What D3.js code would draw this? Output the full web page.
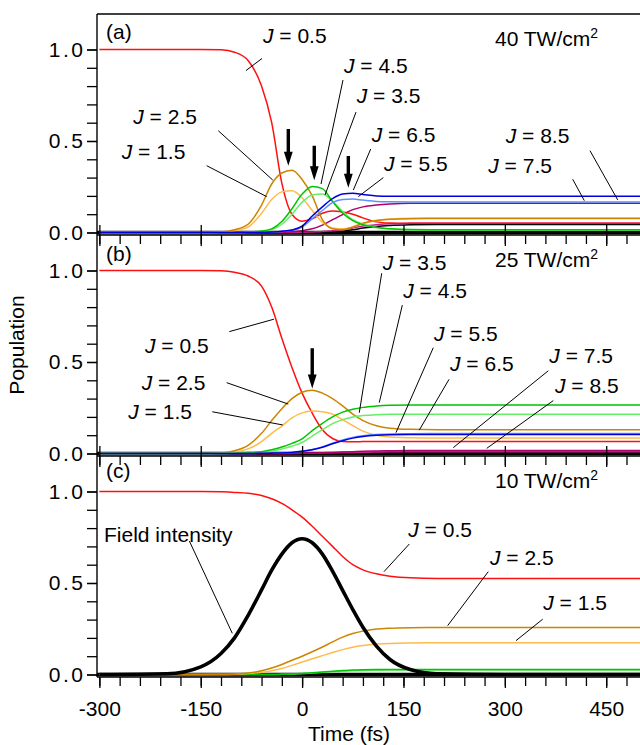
<!DOCTYPE html>
<html>
<head>
<meta charset="utf-8">
<script src="https://cdn.jsdelivr.net/npm/d3@7/dist/d3.min.js"></script>
<style>
  body { margin: 0; background: #fff; }
  svg { display: block; font-family: "Liberation Sans", Arial, Helvetica, sans-serif; }
  text { white-space: pre; }
</style>
</head>
<body>
<svg id="chart" width="640" height="745"></svg>
<script>
// time grid (fs) shared by every curve
const times = [-300, -200, -150, -120, -100, -80, -60, -45, -30, -15, 0, 15, 30, 45, 60, 75, 90, 110, 130, 160, 200, 300, 500]

// panel (a) 40 TW/cm2
const a_j05 = [1, 1, 1, 0.998, 0.985, 0.94, 0.8, 0.6, 0.27, 0.1, 0.062, 0.075, 0.105, 0.118, 0.112, 0.1, 0.08, 0.058, 0.052, 0.05, 0.05, 0.05, 0.05]
const a_j15 = [0, 0, 0, 0.002, 0.01, 0.03, 0.105, 0.18, 0.222, 0.228, 0.19, 0.12, 0.055, 0.025, 0.02, 0.03, 0.048, 0.065, 0.073, 0.078, 0.079, 0.079, 0.079]
const a_j25 = [0, 0, 0, 0.003, 0.015, 0.045, 0.15, 0.265, 0.325, 0.34, 0.29, 0.2, 0.07, 0.02, 0.015, 0.03, 0.05, 0.065, 0.072, 0.075, 0.076, 0.076, 0.076]
const a_j35 = [0, 0, 0, 0, 0, 0.001, 0.005, 0.015, 0.045, 0.1, 0.165, 0.205, 0.21, 0.17, 0.115, 0.07, 0.045, 0.028, 0.02, 0.014, 0.012, 0.012, 0.012]
const a_j45 = [0, 0, 0, 0, 0, 0.002, 0.008, 0.02, 0.06, 0.13, 0.21, 0.252, 0.24, 0.17, 0.105, 0.065, 0.042, 0.027, 0.02, 0.016, 0.015, 0.015, 0.015]
const a_j55 = [0, 0, 0, 0, 0, 0, 0.001, 0.003, 0.006, 0.012, 0.03, 0.075, 0.12, 0.163, 0.18, 0.183, 0.177, 0.17, 0.168, 0.167, 0.167, 0.167, 0.167]
const a_j65 = [0, 0, 0, 0, 0, 0, 0.001, 0.003, 0.007, 0.014, 0.035, 0.09, 0.14, 0.185, 0.21, 0.214, 0.208, 0.2, 0.198, 0.198, 0.198, 0.198, 0.198]
const a_j75 = [0, 0, 0, 0, 0, 0, 0, 0, 0.001, 0.004, 0.01, 0.02, 0.04, 0.07, 0.098, 0.125, 0.14, 0.15, 0.156, 0.16, 0.16, 0.16, 0.16]
const a_j85 = [0, 0, 0, 0, 0, 0, 0, 0, 0, 0, 0.001, 0.003, 0.005, 0.01, 0.015, 0.025, 0.035, 0.043, 0.048, 0.05, 0.051, 0.051, 0.051]
const a_j95 = [0, 0, 0, 0, 0, 0, 0, 0, 0, 0, 0, 0.001, 0.002, 0.004, 0.008, 0.015, 0.024, 0.033, 0.038, 0.042, 0.044, 0.044, 0.044]

// panel (b) 25 TW/cm2
const b_j05 = [1, 1, 1, 0.998, 0.99, 0.97, 0.915, 0.8, 0.63, 0.47, 0.33, 0.22, 0.13, 0.082, 0.066, 0.064, 0.065, 0.066, 0.066, 0.066, 0.066, 0.066, 0.066]
const b_j15 = [0, 0, 0, 0.002, 0.008, 0.025, 0.065, 0.11, 0.15, 0.195, 0.222, 0.232, 0.228, 0.215, 0.185, 0.152, 0.122, 0.1, 0.09, 0.086, 0.084, 0.084, 0.084]
const b_j25 = [0, 0, 0, 0.003, 0.015, 0.045, 0.11, 0.18, 0.245, 0.3, 0.335, 0.346, 0.33, 0.3, 0.26, 0.215, 0.18, 0.152, 0.138, 0.132, 0.13, 0.13, 0.13]
const b_j35 = [0, 0, 0, 0, 0.001, 0.003, 0.005, 0.012, 0.025, 0.04, 0.06, 0.095, 0.13, 0.163, 0.185, 0.2, 0.207, 0.212, 0.214, 0.215, 0.215, 0.215, 0.215]
const b_j45 = [0, 0, 0, 0, 0.002, 0.005, 0.01, 0.02, 0.035, 0.055, 0.08, 0.125, 0.165, 0.2, 0.226, 0.242, 0.252, 0.259, 0.263, 0.265, 0.265, 0.265, 0.265]
const b_j55 = [0, 0, 0, 0, 0, 0, 0.001, 0.002, 0.003, 0.006, 0.012, 0.022, 0.036, 0.056, 0.074, 0.088, 0.097, 0.104, 0.107, 0.108, 0.109, 0.109, 0.109]
const b_j65 = [0, 0, 0, 0, 0, 0, 0.001, 0.002, 0.003, 0.006, 0.012, 0.021, 0.034, 0.053, 0.07, 0.084, 0.093, 0.1, 0.103, 0.104, 0.104, 0.104, 0.104]
const b_j75 = [0, 0, 0, 0, 0, 0, 0, 0, 0, 0.001, 0.002, 0.003, 0.004, 0.006, 0.008, 0.01, 0.012, 0.014, 0.015, 0.016, 0.016, 0.016, 0.016]
const b_j85 = [0, 0, 0, 0, 0, 0, 0, 0, 0, 0, 0.001, 0.002, 0.003, 0.004, 0.005, 0.006, 0.007, 0.008, 0.009, 0.01, 0.01, 0.01, 0.01]

// panel (c) 10 TW/cm2
const c_j05 = [1, 1, 1, 0.998, 0.995, 0.99, 0.978, 0.96, 0.935, 0.9, 0.86, 0.81, 0.755, 0.7, 0.645, 0.6, 0.572, 0.55, 0.537, 0.528, 0.525, 0.525, 0.525]
const c_j15 = [0, 0, 0, 0, 0.001, 0.005, 0.012, 0.021, 0.033, 0.05, 0.068, 0.086, 0.103, 0.12, 0.136, 0.149, 0.158, 0.166, 0.17, 0.172, 0.173, 0.173, 0.173]
const c_j25 = [0, 0, 0, 0.001, 0.002, 0.008, 0.02, 0.035, 0.055, 0.078, 0.1, 0.124, 0.15, 0.178, 0.204, 0.224, 0.237, 0.248, 0.253, 0.256, 0.257, 0.257, 0.257]
const c_j35 = [0, 0, 0, 0, 0, 0, 0, 0, 0.001, 0.002, 0.005, 0.008, 0.012, 0.015, 0.018, 0.02, 0.022, 0.023, 0.024, 0.024, 0.024, 0.024, 0.024]
const c_j45 = [0, 0, 0, 0, 0, 0, 0, 0, 0.001, 0.003, 0.006, 0.01, 0.014, 0.018, 0.022, 0.024, 0.026, 0.027, 0.027, 0.027, 0.027, 0.027, 0.027]
const c_field = [0, 0.004, 0.042, 0.115, 0.2, 0.322, 0.462, 0.57, 0.658, 0.72, 0.742, 0.72, 0.658, 0.565, 0.46, 0.355, 0.258, 0.155, 0.082, 0.027, 0.004, 0, 0]

const colors = {
  j05: '#ff1010', j15: '#ffbb4a', j25: '#cc8500', j35: '#66ee66', j45: '#00c400',
  j55: '#6090ff', j65: '#0000dc', j75: '#b0006c', j85: '#c0208e', j95: '#000000', field: '#000000'
}

const yTicksMajor = [0, 0.5, 1.0]
const yTicksMinor = d3.range(0, 1.05, 0.1)
const xTicksMajor = [-300, -150, 0, 150, 300, 450]
const xTicksMinor = d3.range(-300, 481, 30)

// annotation: value label, text pos (t, v), leader from (t, v) to (t, v)
const labelsA = [
  ['0.5', -57.9, 1.034, -59.3, 0.951, -83, 0.885],
  ['2.5', -249.8, 0.593, -124, 0.556, -43.5, 0.287],
  ['1.5', -266.9, 0.4, -141.2, 0.365, -52.4, 0.196],
  ['4.5', 62, 0.873, 60.5, 0.833, 28, 0.265],
  ['3.5', 80.8, 0.706, 79.8, 0.658, 33.9, 0.205],
  ['6.5', 103, 0.496, 101.5, 0.456, 75.8, 0.232],
  ['5.5', 121.2, 0.338, 120.2, 0.3, 83.2, 0.196],
  ['8.5', 301.3, 0.487, 426, 0.447, 467, 0.178],
  ['7.5', 275.5, 0.327, 400.4, 0.291, 417.6, 0.174]
]
const labelsB = [
  ['0.5', -232.5, 0.548, -107.7, 0.666, -41.6, 0.734],
  ['2.5', -237.3, 0.347, -111.6, 0.387, -20.4, 0.27],
  ['1.5', -257.2, 0.189, -132.9, 0.228, -28.7, 0.156],
  ['3.5', 119.3, 1.003, 117.8, 0.985, 84.6, 0.223],
  ['4.5', 149.7, 0.848, 148.3, 0.811, 114.2, 0.278],
  ['5.5', 195.2, 0.616, 194.1, 0.578, 138.9, 0.114],
  ['6.5', 218.9, 0.451, 217.4, 0.405, 173.4, 0.128],
  ['7.5', 365.8, 0.493, 364.3, 0.452, 223.7, 0.032],
  ['8.5', 374.2, 0.329, 371.7, 0.289, 273.2, 0.028]
]
const labelsC = [
  ['0.5', 157.1, 0.753, 158.6, 0.713, 121.2, 0.562],
  ['2.5', 278, 0.598, 275.5, 0.562, 215.4, 0.267],
  ['1.5', 356.9, 0.352, 356, 0.302, 316.5, 0.185]
]
const fieldLabel = ['Field intensity', -293.1, 0.726, -166.9, 0.73, -103.3, 0.225]

// arrows: time, top value, tip value
const arrowsA = [[-20.4, 0.566, 0.365], [18, 0.474, 0.285], [68.4, 0.418, 0.245]]
const arrowsB = [[15, 0.575, 0.355]]

const panels = [
  { tag: '(a)', tagV: 1.055, power: '40', labels: labelsA, arrows: arrowsA,
    series: [['j95', a_j95], ['j85', a_j85], ['j75', a_j75], ['j05', a_j05], ['j15', a_j15], ['j25', a_j25], ['j35', a_j35], ['j45', a_j45], ['j55', a_j55], ['j65', a_j65]] },
  { tag: '(b)', tagV: 1.052, power: '25', labels: labelsB, arrows: arrowsB,
    series: [['j85', b_j85], ['j75', b_j75], ['j05', b_j05], ['j15', b_j15], ['j25', b_j25], ['j35', b_j35], ['j45', b_j45], ['j55', b_j55], ['j65', b_j65]] },
  { tag: '(c)', tagV: 1.074, power: '10', labels: labelsC, arrows: [],
    series: [['j35', c_j35], ['j45', c_j45], ['j05', c_j05], ['j15', c_j15], ['j25', c_j25], ['field', c_field]] }
]

const svg = d3.select('#chart')
const left = 97, right = 640
const tops = [14, 235, 456], panelH = 221
const x = d3.scaleLinear().domain([-303.5, 500]).range([left, right])

function jText(sel, value) {
  sel.append('tspan').attr('font-style', 'italic').text('J')
  sel.append('tspan').text(' = ' + value)
}

panels.forEach(function (p, i) {
  const top = tops[i]
  const bottom = top + panelH
  const y = d3.scaleLinear().domain([-0.0137, 1.194]).range([bottom, top])
  const g = svg.append('g')

  const clipId = 'clip' + i
  svg.append('clipPath').attr('id', clipId)
    .append('rect').attr('x', left).attr('y', top).attr('width', right - left).attr('height', panelH)

  const plot = g.append('g').attr('clip-path', `url(#${clipId})`)

  const line = d3.line()
    .x((d, k) => x(times[k]))
    .y(d => y(d))
    .curve(d3.curveMonotoneX)

  // thick zero line
  plot.append('line')
    .attr('x1', left).attr('x2', right)
    .attr('y1', y(0)).attr('y2', y(0))
    .attr('stroke', '#000').attr('stroke-width', 3.4)

  plot.selectAll('path.curve')
    .data(p.series)
    .enter().append('path')
    .attr('class', 'curve')
    .attr('d', d => line(d[1]))
    .attr('fill', 'none')
    .attr('stroke', d => colors[d[0]])
    .attr('stroke-width', d => d[0] === 'field' ? 3.6 : 1.5)

  // frame lines
  g.append('line').attr('x1', left).attr('x2', right).attr('y1', bottom).attr('y2', bottom)
    .attr('stroke', '#000').attr('stroke-width', 1.4)
  if (i === 0) {
    g.append('line').attr('x1', left).attr('x2', right).attr('y1', top).attr('y2', top)
      .attr('stroke', '#000').attr('stroke-width', 1.4)
  }
  g.append('line').attr('x1', left).attr('x2', left).attr('y1', top).attr('y2', bottom)
    .attr('stroke', '#000').attr('stroke-width', 1.4)

  // y axis
  g.append('g').attr('transform', `translate(${left},0)`)
    .call(d3.axisLeft(y).tickValues(yTicksMinor).tickSize(10).tickFormat(''))
  const yMajor = g.append('g').attr('transform', `translate(${left},0)`)
    .call(d3.axisLeft(y).tickValues(yTicksMajor).tickSize(10).tickPadding(4).tickFormat(d3.format('.1f')))
  yMajor.selectAll('text').attr('font-size', 21).attr('font-family', null)
    .attr('letter-spacing', 2.5).attr('dx', 2.5).attr('fill', '#000')

  // x axis
  g.append('g').attr('transform', `translate(0,${bottom})`)
    .call(d3.axisBottom(x).tickValues(xTicksMinor).tickSize(9).tickFormat(''))
  const xMajor = g.append('g').attr('transform', `translate(0,${bottom})`)
    .call(d3.axisBottom(x).tickValues(xTicksMajor).tickSize(11).tickPadding(13).tickFormat(i === 2 ? (d => String(d)) : ''))
  if (i < 2) {
    g.append('g').attr('transform', `translate(0,${bottom})`)
      .call(d3.axisTop(x).tickValues(xTicksMajor).tickSize(10).tickFormat(''))
  }
  xMajor.selectAll('text').attr('font-size', 21).attr('font-family', null).attr('fill', '#000')

  g.selectAll('.domain').remove()
  g.selectAll('.tick line').attr('stroke', '#000').attr('stroke-width', 1.3)

  // panel tag and intensity
  g.append('text').attr('x', x(-290.2)).attr('y', y(p.tagV)).attr('font-size', 21).text(p.tag)
  const pw = g.append('text').attr('x', x(285.4)).attr('y', y(1.017)).attr('font-size', 21)
  pw.append('tspan').text(p.power + ' TW/cm')
  pw.append('tspan').attr('dy', -8.4).attr('font-size', 14).text('2')

  // labels with leader lines
  p.labels.forEach(function (l) {
    g.append('line')
      .attr('x1', x(l[3])).attr('y1', y(l[4]))
      .attr('x2', x(l[5])).attr('y2', y(l[6]))
      .attr('stroke', '#000').attr('stroke-width', 1)
    const t = g.append('text').attr('x', x(l[1])).attr('y', y(l[2])).attr('font-size', 21)
    jText(t, l[0])
  })

  if (i === 2) {
    g.append('line')
      .attr('x1', x(fieldLabel[3])).attr('y1', y(fieldLabel[4]))
      .attr('x2', x(fieldLabel[5])).attr('y2', y(fieldLabel[6]))
      .attr('stroke', '#000').attr('stroke-width', 1)
    g.append('text').attr('x', x(fieldLabel[1])).attr('y', y(fieldLabel[2]))
      .attr('font-size', 21).text(fieldLabel[0])
  }

  // arrows
  p.arrows.forEach(function (a) {
    const ax = x(a[0]), y1 = y(a[1]), y2 = y(a[2])
    const headLen = 14, headW = 4.4, shaftW = 1.7
    const path = d3.path()
    path.moveTo(ax - shaftW, y1)
    path.lineTo(ax + shaftW, y1)
    path.lineTo(ax + shaftW, y2 - headLen)
    path.lineTo(ax + headW, y2 - headLen)
    path.lineTo(ax, y2)
    path.lineTo(ax - headW, y2 - headLen)
    path.lineTo(ax - shaftW, y2 - headLen)
    path.closePath()
    g.append('path').attr('d', path.toString()).attr('fill', '#000')
  })
})

// axis titles
svg.append('text')
  .attr('transform', 'translate(24,345) rotate(-90)')
  .attr('text-anchor', 'middle')
  .attr('font-size', 21)
  .text('Population')

svg.append('text')
  .attr('x', 349).attr('y', 741)
  .attr('text-anchor', 'middle')
  .attr('font-size', 21)
  .text('Time (fs)')
</script>
</body>
</html>
